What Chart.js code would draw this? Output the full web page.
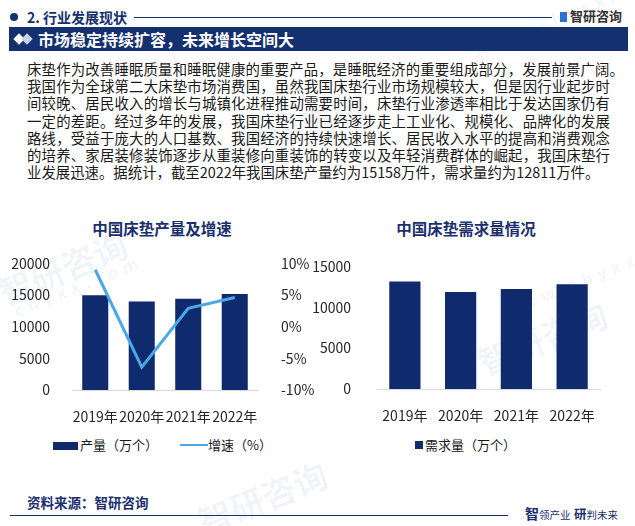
<!DOCTYPE html>
<html lang="zh">
<head>
<meta charset="UTF-8">
<title>市场稳定持续扩容</title>
<script src="https://cdn.jsdelivr.net/npm/chart.js"></script>
<style>
    body {
        margin: 0;
        width: 635px;
        height: 526px;
        position: relative;
        overflow: hidden;
        background: #fff;
        font-family: "Noto Sans CJK SC", "Noto Sans", sans-serif;
        color: #1a1a1a;
    }
    .abs { position: absolute; }
    .wm {
        position: absolute;
        color: rgba(30, 70, 140, 0.06);
        font-weight: bold;
        white-space: nowrap;
        transform: rotate(-22deg);
        transform-origin: left top;
    }
    .hdr-dot { left: 10px; top: 13px; width: 8px; height: 8px; border-radius: 50%; background: #14306e; }
    .hdr-title { left: 27px; top: 8px; font-size: 14px; font-weight: bold; color: #14306e; line-height: 18px; }
    .hdr-line { left: 134px; top: 17px; width: 418px; height: 1px; background: #14306e; }
    .logo { left: 560px; top: 7px; font-size: 13px; color: #333; line-height: 18px; font-weight: bold; }
    .logo i { display: inline-block; width: 7px; height: 10px; background: #2e6fd0; margin-right: 3px; vertical-align: -1px; }
    .banner { left: 9px; top: 27px; width: 619px; height: 24px; background: #14306e; }
    .banner-text { left: 38px; top: 27px; line-height: 24px; font-size: 16px; font-weight: bold; color: #fff; }
    .dia { width: 8px; height: 8px; transform: rotate(45deg); top: 35px; }
    .para { left: 27px; top: 60px; width: 583px; font-size: 14.4px; line-height: 17.2px; }
    .para div { white-space: nowrap; }
    .para .j { text-align: justify; text-align-last: justify; }
    .ctitle { font-size: 15.5px; font-weight: bold; color: #1b2f6e; line-height: 20px; text-align: center; }
    .leg { font-size: 13px; line-height: 16px; color: #1a1a1a; }
    .src { left: 27px; top: 493px; font-size: 13.5px; font-weight: bold; color: #1b2f6e; line-height: 18px; }
    .foot-line { left: 10px; top: 515px; width: 498px; height: 1px; background: #14306e; }
    .slogan { left: 525px; top: 503px; color: #1b2f6e; line-height: 18px; white-space: nowrap; }
</style>
</head>
<body>
    <!-- 水印 -->
    <div class="wm" style="left:-10px; top:270px; font-size:34px;">智研咨询</div>
    <div class="wm" style="left:10px; top:300px; font-size:16px; letter-spacing:6px;">chyxx.com</div>
    <div class="wm" style="left:190px; top:500px; font-size:34px;">智研咨询</div>
    <div class="wm" style="left:230px; top:130px; font-size:34px;">智研咨询</div>
    <div class="wm" style="left:470px; top:340px; font-size:34px;">智研咨询</div>
    <div class="wm" style="left:500px; top:300px; font-size:16px; letter-spacing:6px;">www.chyxx.com</div>
    <div class="wm" style="left:470px; top:40px; font-size:16px; letter-spacing:6px;">www.chyxx.com</div>

    <div class="abs hdr-dot"></div>
    <div class="abs hdr-title">2. 行业发展现状</div>
    <div class="abs hdr-line"></div>
    <div class="abs logo"><i></i>智研咨询</div>

    <div class="abs banner"></div>
    <div class="abs dia" style="left:15px; background:#fff;"></div>
    <div class="abs dia" style="left:23px; background:#c9d3e6;"></div>
    <div class="abs banner-text">市场稳定持续扩容，未来增长空间大</div>

    <div class="abs para">
        <div class="j" style="width:597px;">床垫作为改善睡眠质量和睡眠健康的重要产品，是睡眠经济的重要组成部分，发展前景广阔。</div>
        <div class="j">我国作为全球第二大床垫市场消费国，虽然我国床垫行业市场规模较大，但是因行业起步时</div>
        <div class="j">间较晚、居民收入的增长与城镇化进程推动需要时间，床垫行业渗透率相比于发达国家仍有</div>
        <div class="j">一定的差距。经过多年的发展，我国床垫行业已经逐步走上工业化、规模化、品牌化的发展</div>
        <div class="j">路线，受益于庞大的人口基数、我国经济的持续快速增长、居民收入水平的提高和消费观念</div>
        <div class="j">的培养、家居装修装饰逐步从重装修向重装饰的转变以及年轻消费群体的崛起，我国床垫行</div>
        <div>业发展迅速。据统计，截至2022年我国床垫产量约为15158万件，需求量约为12811万件。</div>
    </div>

    <div class="abs ctitle" style="left:62px; top:218px; width:200px;">中国床垫产量及增速</div>
    <div class="abs ctitle" style="left:366px; top:218px; width:200px;">中国床垫需求量情况</div>

    <div class="abs" style="left:0; top:240px; width:320px; height:190px;">
        <canvas id="prodChart"></canvas>
    </div>
    <div class="abs" style="left:305px; top:240px; width:330px; height:190px;">
        <canvas id="demandChart"></canvas>
    </div>

    <!-- 图例 -->
    <div class="abs" style="left:53px; top:442px; width:25px; height:8px; background:#102a6e;"></div>
    <div class="abs leg" style="left:80px; top:437px;">产量（万个）</div>
    <div class="abs" style="left:180px; top:444px; width:28px; height:2px; background:#4aa8e8;"></div>
    <div class="abs leg" style="left:208px; top:437px;">增速（%）</div>
    <div class="abs" style="left:415px; top:441px; width:8px; height:8px; background:#102a6e;"></div>
    <div class="abs leg" style="left:425px; top:437px;">需求量（万个）</div>

    <div class="abs src">资料来源：智研咨询</div>
    <div class="abs foot-line"></div>
    <div class="abs slogan"><b style="font-size:14px;">智</b><span style="font-size:10.5px;">领产业</span>&nbsp;<b style="font-size:12.5px;">研</b><span style="font-size:10.5px;">判未来</span></div>

<script>
    const years = ['2019年', '2020年', '2021年', '2022年'];
    const production = [14950, 13990, 14400, 15158];   // 产量（万个）
    const growth = [9.0, -6.4, 2.9, 4.6];               // 增速（%）
    const demand = [13140, 11870, 12220, 12811];        // 需求量（万个）

    const navy = '#102a6e';
    const lightBlue = '#4aa8e8';
    const tickFont = { family: '"Noto Sans CJK SC", sans-serif', size: 14 };
    const tickColor = '#262626';

    function fixWidth(w) { return scale => { scale.width = w; }; }
    function fixHeight(h) { return scale => { scale.height = h; }; }
    const plain = v => String(v);

    // 产量及增速
    new Chart(document.getElementById('prodChart'), {
        type: 'bar',
        data: {
            labels: years,
            datasets: [
                {
                    type: 'line',
                    label: '增速（%）',
                    data: growth,
                    yAxisID: 'y2',
                    borderColor: lightBlue,
                    borderWidth: 3,
                    pointRadius: 0,
                    tension: 0,
                    order: 0
                },
                {
                    label: '产量（万个）',
                    data: production,
                    yAxisID: 'y',
                    backgroundColor: navy,
                    categoryPercentage: 1,
                    barPercentage: 0.56,
                    order: 1
                }
            ]
        },
        options: {
            responsive: true,
            maintainAspectRatio: false,
            animation: false,
            layout: { padding: { left: 0, right: 0, top: 20, bottom: 0 } },
            plugins: { legend: { display: false }, tooltip: { enabled: false } },
            scales: {
                x: {
                    grid: { display: false },
                    border: { display: true, color: '#d9d9d9' },
                    ticks: { font: tickFont, color: tickColor, padding: 10, maxRotation: 0, autoSkip: false },
                    afterFit: fixHeight(40)
                },
                y: {
                    position: 'left',
                    min: 0, max: 20000,
                    grid: { display: false },
                    border: { display: false },
                    ticks: { stepSize: 5000, font: tickFont, color: tickColor, padding: 14, callback: plain },
                    afterFit: fixWidth(72)
                },
                y2: {
                    position: 'right',
                    min: -10, max: 10,
                    grid: { display: false },
                    border: { display: false },
                    ticks: { stepSize: 5, font: tickFont, color: tickColor, padding: 15, callback: v => v + '%' },
                    afterFit: fixWidth(62)
                }
            }
        }
    });

    // 需求量
    new Chart(document.getElementById('demandChart'), {
        type: 'bar',
        data: {
            labels: years,
            datasets: [{
                label: '需求量（万个）',
                data: demand,
                backgroundColor: navy,
                categoryPercentage: 1,
                barPercentage: 0.56
            }]
        },
        options: {
            responsive: true,
            maintainAspectRatio: false,
            animation: false,
            layout: { padding: { left: 0, right: 35, top: 20, bottom: 0 } },
            plugins: { legend: { display: false }, tooltip: { enabled: false } },
            scales: {
                x: {
                    grid: { display: false },
                    border: { display: true, color: '#d9d9d9' },
                    ticks: { font: tickFont, color: tickColor, padding: 10, maxRotation: 0, autoSkip: false },
                    afterFit: fixHeight(41)
                },
                y: {
                    min: 0, max: 15000,
                    grid: { display: false },
                    border: { display: false },
                    ticks: { stepSize: 5000, font: tickFont, color: tickColor, padding: 18, callback: plain },
                    afterFit: fixWidth(72)
                }
            }
        }
    });
</script>
</body>
</html>
